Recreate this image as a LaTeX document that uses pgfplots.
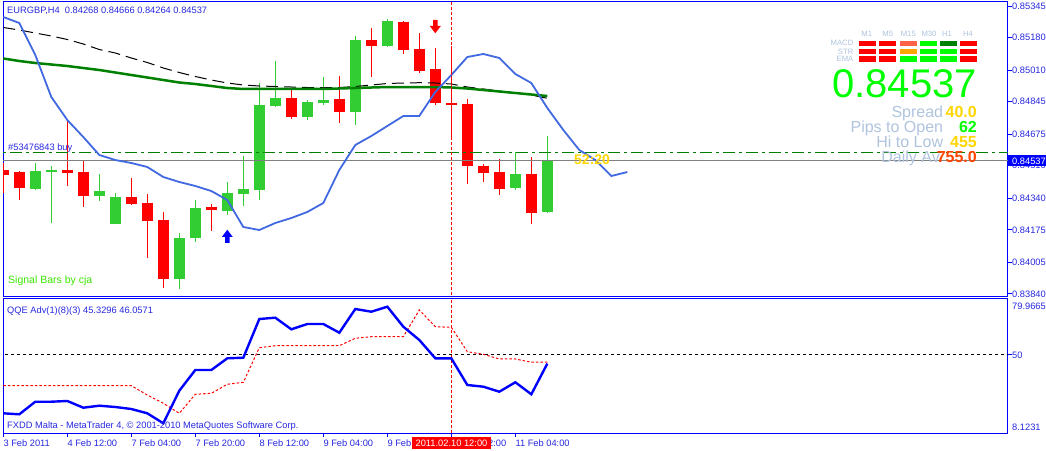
\documentclass[border=0pt]{standalone}
\usepackage{pgfplots}
\pgfplotsset{compat=1.18}
\usepackage{pgfplotstable}
\usepackage{fontspec}
\setmainfont{Liberation Sans}

\definecolor{mtblue}{RGB}{0,0,255}
\definecolor{mttext}{RGB}{40,40,225}
\definecolor{bull}{RGB}{50,205,50}
\definecolor{bear}{RGB}{255,0,0}
\definecolor{magreen}{RGB}{0,128,0}
\definecolor{royal}{RGB}{65,105,225}
\definecolor{lsb}{RGB}{176,196,222}
\definecolor{lime}{RGB}{0,255,0}
\definecolor{gold}{RGB}{255,215,0}
\definecolor{orred}{RGB}{255,69,0}
\definecolor{tomato}{RGB}{255,99,71}
\definecolor{orng}{RGB}{255,165,0}
\definecolor{pricegray}{RGB}{128,128,128}
\definecolor{siglime}{RGB}{60,230,0}

\newcommand{\mtfont}{\fontsize{9.3}{11}\selectfont}

\pgfdeclareplotmark{dnarrow}{%
  \pgfpathmoveto{\pgfqpoint{-2.2pt}{6.7pt}}%
  \pgfpathlineto{\pgfqpoint{2.2pt}{6.7pt}}%
  \pgfpathlineto{\pgfqpoint{2.2pt}{0.7pt}}%
  \pgfpathlineto{\pgfqpoint{5.5pt}{0.7pt}}%
  \pgfpathlineto{\pgfqpoint{0pt}{-6.6pt}}%
  \pgfpathlineto{\pgfqpoint{-5.5pt}{0.7pt}}%
  \pgfpathlineto{\pgfqpoint{-2.2pt}{0.7pt}}%
  \pgfpathclose
  \pgfusepathqfill}
\pgfdeclareplotmark{uparrow}{%
  \pgfpathmoveto{\pgfqpoint{-2.2pt}{-6.7pt}}%
  \pgfpathlineto{\pgfqpoint{2.2pt}{-6.7pt}}%
  \pgfpathlineto{\pgfqpoint{2.2pt}{-0.7pt}}%
  \pgfpathlineto{\pgfqpoint{5.5pt}{-0.7pt}}%
  \pgfpathlineto{\pgfqpoint{0pt}{6.6pt}}%
  \pgfpathlineto{\pgfqpoint{-5.5pt}{-0.7pt}}%
  \pgfpathlineto{\pgfqpoint{-2.2pt}{-0.7pt}}%
  \pgfpathclose
  \pgfusepathqfill}
% an invisible mark for the candle base points
\pgfdeclareplotmark{nomark}{}

% bullish candles: index, open, high, low, close
\pgfplotstableread{
k O H L C
2 0.843903 0.845261 0.843835 0.844828
3 0.844791 0.845089 0.842126 0.844896
6 0.843537 0.844655 0.843260 0.843782
7 0.842073 0.843662 0.842073 0.843469
11 0.839199 0.841587 0.838677 0.841326
12 0.841342 0.843312 0.841133 0.842894
14 0.842753 0.844253 0.842544 0.843678
15 0.843641 0.845611 0.843014 0.843887
16 0.843850 0.849426 0.843312 0.848277
17 0.848224 0.850576 0.848188 0.848643
19 0.847650 0.848538 0.847509 0.848434
20 0.848381 0.849740 0.848277 0.848538
22 0.847927 0.851883 0.847247 0.851674
24 0.851376 0.852771 0.851324 0.852667
32 0.843955 0.845805 0.843850 0.844686
34 0.84268 0.84666 0.84264 0.84537
}\bulltab

% bearish candles
\pgfplotstableread{
k O H L C
0 0.844880 0.845246 0.843678 0.844634
1 0.844775 0.844828 0.843312 0.843955
4 0.844880 0.847441 0.844044 0.844739
5 0.844775 0.845350 0.842962 0.843537
8 0.843469 0.844462 0.843066 0.843119
9 0.843155 0.843626 0.840297 0.842230
10 0.842267 0.842685 0.838729 0.839199
13 0.842946 0.843103 0.841708 0.842805
18 0.848643 0.849097 0.847561 0.847650
21 0.848590 0.849792 0.847352 0.847927
23 0.851674 0.852316 0.849756 0.851376
25 0.852614 0.852667 0.850958 0.851167
26 0.851203 0.852039 0.849965 0.850054
27 0.850158 0.851271 0.848292 0.848397
28 0.848381 0.851376 0.846536 0.848292
29 0.848329 0.848590 0.844164 0.845073
30 0.845105 0.845209 0.844268 0.844739
31 0.844791 0.845470 0.843589 0.843903
33 0.844686 0.845575 0.842073 0.842649
}\beartab

% moving averages
\pgfplotstableread{
k blue green black
0 0.852876 0.850707 0.852327
1 0.852562 0.850576 0.852196
2 0.850890 0.850472 0.852039
3 0.848695 0.850393 0.851883
4 0.847493 0.850315 0.851700
5 0.846604 0.850210 0.851465
6 0.845664 0.850106 0.851177
7 0.845402 0.849975 0.850994
8 0.845246 0.849844 0.850733
9 0.845037 0.849714 0.850498
10 0.844514 0.849583 0.850210
11 0.844253 0.849453 0.849975
12 0.844044 0.849374 0.849766
13 0.843782 0.849270 0.849583
14 0.843312 0.849165 0.849426
15 0.841901 0.849113 0.849322
16 0.841744 0.849113 0.849270
17 0.842110 0.849113 0.849244
18 0.842371 0.849113 0.849217
19 0.842685 0.849113 0.849191
20 0.843155 0.849113 0.849191
21 0.844880 0.849139 0.849191
22 0.846186 0.849165 0.849244
23 0.846657 0.849191 0.849322
24 0.847179 0.849217 0.849400
25 0.847702 0.849217 0.849426
26 0.847702 0.849217 0.849442
27 0.848956 0.849217 0.849426
28 0.849844 0.849191 0.849374
29 0.850785 0.849139 0.849217
30 0.850942 0.849061 0.849113
31 0.850733 0.848982 0.849008
32 0.849897 0.848904 0.848904
33 0.849426 0.848825 0.848799
34 0.848120 0.848747 0.848627
35 0.846970 nan nan
36 0.845925 nan nan
37 0.845402 nan nan
38 0.844566 nan nan
39 0.844775 nan nan
}\matab

% QQE
\pgfplotstableread{
k qqe sig
0 18.68 33.48
1 18.15 33.48
2 24.90 33.48
3 24.90 33.48
4 25.28 33.48
5 21.69 33.48
6 22.76 33.48
7 22.06 33.48
8 20.99 33.48
9 18.68 28.50
10 13.32 24.05
11 30.80 18.68
12 41.90 28.87
13 41.90 29.41
14 48.17 34.23
15 48.49 35.31
16 69.24 53.86
17 69.94 54.93
18 63.72 54.93
19 66.56 54.93
20 66.56 54.93
21 61.90 54.93
22 74.60 58.90
23 73.16 59.76
24 75.84 59.76
25 65.12 59.76
26 57.98 74.07
27 48.17 65.12
28 48.17 64.79
29 33.86 51.71
30 32.95 50.32
31 30.27 47.80
32 35.31 47.80
33 28.87 46.06
34 45.3296 46.0571
}\qqetab

\pgfplotsset{mtaxis/.style={
  scale only axis, width=1005pt, xmin=-0.019, xmax=62.79,
  axis line style={mtblue, line width=1pt},
  tick style={mtblue, line width=1pt},
  tick align=outside, major tick length=4pt,
  ytick pos=right, yticklabel pos=right, xtick pos=bottom,
  tick label style={font=\mtfont, text=mttext},
  yticklabel style={anchor=west, inner sep=0pt},
  xticklabel style={anchor=north west, inner sep=0pt, yshift=-2.5pt},
  clip=true,
},
candle/.style={only marks, mark=nomark,
  error bars/.cd, y dir=plus, y explicit, error mark=none}
}

\begin{document}
\begin{tikzpicture}[x=1pt,y=1pt]
\useasboundingbox (0,0) rectangle (1046,450);
\fill[white] (0,0) rectangle (1046,450);
\clip (0,0) rectangle (1046,450);

\begin{axis}[mtaxis, name=main, at={(3pt,153.5pt)}, anchor=south west,
  height=294.5pt, ymin=0.838269, ymax=0.853660, xtick=\empty,
  ytick={0.85345,0.85180,0.85010,0.84845,0.84675,0.84510,0.84340,0.84175,0.84005,0.83840},
  yticklabels={0.85345,0.85180,0.85010,0.84845,0.84675,0.84510,0.84340,0.84175,0.84005,0.83840}]
% candles
\addplot[candle, error bar style={bull, line width=1pt}]
  table[x=k, y=L, y error expr=\thisrow{H}-\thisrow{L}] {\bulltab};
\addplot[candle, error bar style={bull, line width=11pt}]
  table[x=k, y=O, y error expr=\thisrow{C}-\thisrow{O}] {\bulltab};
\addplot[candle, error bar style={bear, line width=1pt}]
  table[x=k, y=L, y error expr=\thisrow{H}-\thisrow{L}] {\beartab};
\addplot[candle, error bar style={bear, line width=11pt}]
  table[x=k, y=C, y error expr=\thisrow{O}-\thisrow{C}] {\beartab};
% horizontal lines
\addplot[pricegray, line width=1pt] coordinates {(-1,0.84537) (64,0.84537)};
\addplot[magreen, line width=1pt, dash pattern=on 12pt off 4pt on 3pt off 4pt] coordinates {(-1,0.845820) (64,0.845820)};
% moving averages
\addplot[black, line width=1pt, dash pattern=on 12pt off 6pt] table[x=k, y=black] {\matab};
\addplot[magreen, line width=2.5pt] table[x=k, y=green] {\matab};
\addplot[royal, line width=1.8pt] table[x=k, y=blue] {\matab};
% vertical cursor line
\addplot[bear, line width=1pt, dash pattern=on 3pt off 2pt] coordinates {(28,0.83) (28,0.86)};
% signal arrows
\addplot[only marks, mark=dnarrow, color=bear] coordinates {(27,0.852369)};
\addplot[only marks, mark=uparrow, color=mtblue] coordinates {(14,0.841415)};
\end{axis}

\begin{axis}[mtaxis, name=qqe, at={(3pt,17pt)}, anchor=south west,
  height=134pt, ymin=8.1231, ymax=79.9665,
  ytick={50}, yticklabels={50},
  xtick={0,4,8,12,16,20,24,28,32},
  xticklabels={3 Feb 2011,4 Feb 12:00,7 Feb 04:00,7 Feb 20:00,8 Feb 12:00,9 Feb 04:00,9 Feb 20:00,10 Feb 12:00,11 Feb 04:00}]
\addplot[black, line width=1pt, dash pattern=on 3pt off 3pt] coordinates {(-1,50) (64,50)};
\addplot[bear, line width=1pt, dash pattern=on 3pt off 2pt] coordinates {(28,0) (28,100)};
\addplot[bear, line width=1pt, dash pattern=on 2.5pt off 2pt] table[x=k, y=sig] {\qqetab};
\addplot[mtblue, line width=2.4pt] table[x=k, y=qqe] {\qqetab};
\end{axis}

% texts
\node[anchor=base west, inner sep=0, text=mttext, font=\mtfont] at (7,436) {EURGBP,H4\ \ 0.84268 0.84666 0.84264 0.84537};
\node[anchor=base west, inner sep=0, text=mttext, font=\mtfont] at (8,299.5) {\#53476843 buy};
\node[anchor=base west, inner sep=0, text=siglime, font=\fontsize{10.5}{12}\selectfont] at (8,166.5) {Signal Bars by cja};
\node[anchor=base west, inner sep=0, text=gold, font=\fontsize{14}{16}\selectfont\bfseries] at (574,285) {52:20};
\node[anchor=base west, inner sep=0, text=mttext, font=\mtfont] at (7,137) {QQE Adv(1)(8)(3) 45.3296 46.0571};
\node[anchor=base west, inner sep=0, text=mttext, font=\mtfont] at (7,22) {FXDD Malta - MetaTrader 4, © 2001-2010 MetaQuotes Software Corp.};
\node[anchor=north west, inner sep=0, text=mttext, font=\mtfont] at (1012,147.5) {79.9665};
\node[anchor=base west, inner sep=0, text=mttext, font=\mtfont] at (1012,20) {8.1231};

% current price box
\fill[mtblue] (1008,283.5) rectangle (1046,294.5);
\node[anchor=west, inner sep=0, text=white, font=\mtfont] at (1012,289) {0.84537};

% time cursor box
\fill[bear] (412,1) rectangle (491,13);
\node[inner sep=0, text=white, font=\mtfont] at (451.5,7) {2011.02.10 12:00};

% info panel
\foreach \lab/\cx in {M1/866.7,M5/887.7,M15/908.3,M30/929,H1/947,H4/968}
  \node[anchor=base, inner sep=0, text=lsb, font=\fontsize{7.7}{9}\selectfont] at (\cx,413.5) {\lab};
\foreach \lab/\cy in {MACD/406.7,STR/398.5,EMA/390.7}
  \node[anchor=east, inner sep=0, text=lsb, font=\fontsize{7.7}{9}\selectfont] at (853.5,\cy) {\lab};
\foreach \cx/\ca/\cb/\cc in {859.3/bear/bear/bear,879.3/bear/bear/bear,900/tomato/orng/lime,920/lime/lime/lime,940/magreen/lime/lime,960/bear/bear/bear}{
  \fill[\ca] (\cx,404) rectangle ++(16.7,5.3);
  \fill[\cb] (\cx,396) rectangle ++(16.7,5.3);
  \fill[\cc] (\cx,388.3) rectangle ++(16.7,5.3);
}
\node[anchor=base east, inner sep=0, text=lime, font=\fontsize{40}{44}\selectfont] at (977,352) {0.84537};
\node[anchor=base east, inner sep=0, text=lsb, font=\fontsize{16}{18}\selectfont] at (943.3,332.7) {Spread};
\node[anchor=base east, inner sep=0, text=gold, font=\fontsize{16}{18}\selectfont\bfseries] at (977,332.7) {40.0};
\node[anchor=base east, inner sep=0, text=lsb, font=\fontsize{16}{18}\selectfont] at (943.3,317.5) {Pips to Open};
\node[anchor=base east, inner sep=0, text=lime, font=\fontsize{16}{18}\selectfont\bfseries] at (977,317.5) {62};
\node[anchor=base east, inner sep=0, text=lsb, font=\fontsize{16}{18}\selectfont] at (943.3,302.3) {Hi to Low};
\node[anchor=base east, inner sep=0, text=gold, font=\fontsize{16}{18}\selectfont\bfseries] at (977,302.3) {455};
\node[anchor=base east, inner sep=0, text=lsb, font=\fontsize{16}{18}\selectfont] at (940,287.3) {Daily Av};
\node[anchor=base east, inner sep=0, text=orred, font=\fontsize{16}{18}\selectfont\bfseries] at (977,287.3) {755.0};
\end{tikzpicture}
\end{document}
